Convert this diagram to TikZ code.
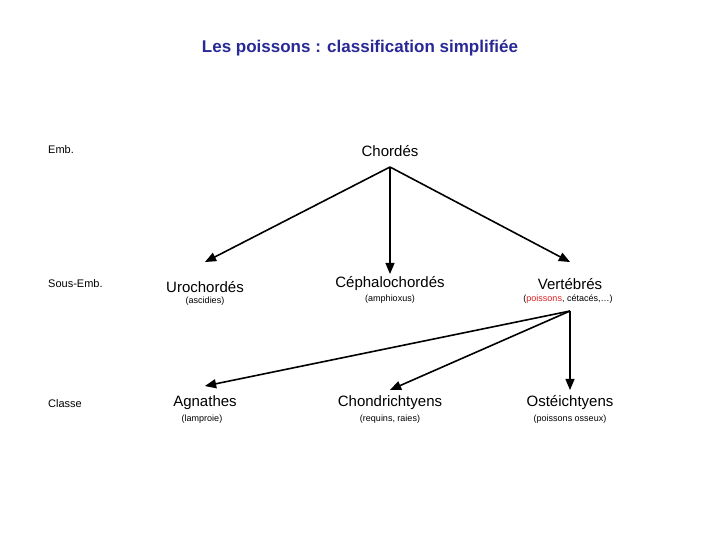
\documentclass[tikz,border=0pt]{standalone}
\usepackage{fontspec}
\setmainfont{Liberation Sans}
\usetikzlibrary{arrows}
\definecolor{titleblue}{RGB}{40,40,150}
\definecolor{fishred}{RGB}{220,30,30}
\begin{document}
\begin{tikzpicture}[x=1pt, y=-1pt,
        taxon/.style={font=\fontsize{15}{17}\selectfont, inner sep=0pt},
        note/.style={font=\fontsize{9}{11}\selectfont, inner sep=0pt},
        rank/.style={font=\fontsize{11}{13}\selectfont, inner sep=0pt, anchor=west},
        link/.style={-triangle 45, line width=1.6pt},
        ]
        \useasboundingbox (0,0) rectangle (720,540);
        \node[font=\fontsize{17}{19}\selectfont\bfseries, text=titleblue] (TITLE) at (360,48) {Les poissons : classification simplifiée};
        % rangs
        \node[rank] (EMB)   at (48,150) {Emb.};
        \node[rank] (SEMB)  at (48,284) {Sous-Emb.};
        \node[rank] (CLASS) at (48,404) {Classe};
        % taxons
        \node[taxon] (CHO) at (390,151) {Chordés};
        \node[taxon] (URO) at (205,287) {Urochordés};
        \node[note]  (UROn) at (205,301) {(ascidies)};
        \node[taxon] (CEP) at (390,284) {Céphalochordés};
        \node[note]  (CEPn) at (390,299) {(amphioxus)};
        \node[taxon] (VER) at (570,284) {Vertébrés};
        \node[note]  (VERn) at (568,299) {(\textcolor{fishred}{poissons}, cétacés,…)};
        \node[taxon] (AGN) at (205,403) {Agnathes};
        \node[note]  (AGNn) at (202,419) {(lamproie)};
        \node[taxon] (CHD) at (390,403) {Chondrichtyens};
        \node[note]  (CHDn) at (390,419) {(requins, raies)};
        \node[taxon] (OST) at (570,403) {Ostéichtyens};
        \node[note]  (OSTn) at (570,419) {(poissons osseux)};
        % liens
        \coordinate (CHOs) at (390,167);
        \coordinate (VERs) at (570,311);
        \draw[link] (CHOs) -- (URO.north |- 0,262);
        \draw[link] (CHOs) -- (CEP.north |- 0,274);
        \draw[link] (CHOs) -- (VER.north |- 0,262);
        \draw[link] (VERs) -- (AGN.north |- 0,386);
        \draw[link] (VERs) -- (CHD.north |- 0,390);
        \draw[link] (VERs) -- (OST.north |- 0,390);
\end{tikzpicture}
\end{document}
